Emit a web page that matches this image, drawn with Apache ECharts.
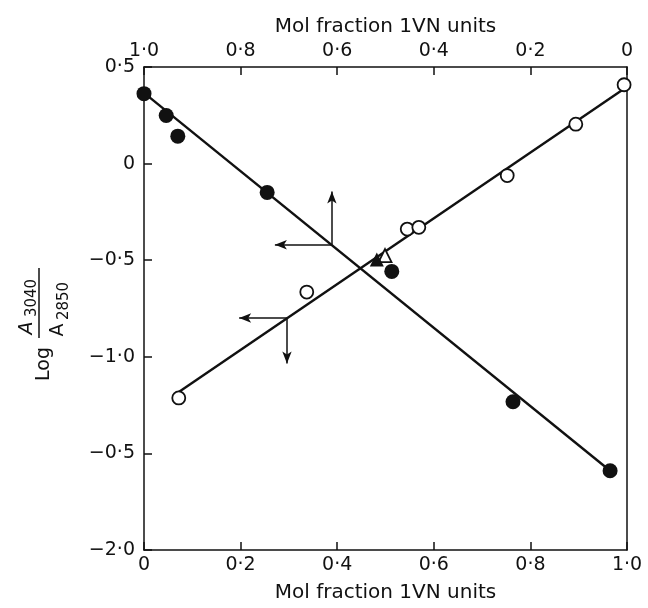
<!DOCTYPE html>
<html>
<head>
<meta charset="utf-8">
<script src="https://cdn.jsdelivr.net/npm/echarts@6/dist/echarts.min.js"></script>
<style>
  html, body { margin: 0; padding: 0; background: #fff; }
  #chart { width: 648px; height: 608px; }
</style>
</head>
<body>
<div id="chart"></div>
<script>
// Tick values and their printed labels
const xTickValues = [0, 0.2, 0.4, 0.6, 0.8, 1.0];
const xTickLabels = ['0', '0·2', '0·4', '0·6', '0·8', '1·0'];
const yTickValues = [-2.0, -1.5, -1.0, -0.5, 0, 0.5];
const yTickLabels = ['−2·0', '−0·5', '−1·0', '−0·5', '0', '0·5'];

// Open circles: read on the bottom axis
const openX = [0.072, 0.337, 0.545, 0.569, 0.752, 0.894, 0.994];
const openY = [-1.213, -0.665, -0.339, -0.330, -0.062, 0.204, 0.408];

// Filled circles: read on the top (reversed) axis
const filledX = [1.000, 0.954, 0.930, 0.745, 0.487, 0.236, 0.035];
const filledY = [0.362, 0.249, 0.142, -0.149, -0.558, -1.233, -1.590];

// Triangles
const openTriX = [0.499];
const openTriY = [-0.476];
const filledTriX = [0.518];
const filledTriY = [-0.497];

// Straight fitted lines (end points)
const openFitX = [0.072, 0.994];
const openFitY = [-1.182, 0.388];
const filledFitX = [1.000, 0.035];
const filledFitY = [0.366, -1.590];

// Reading arrows: corner point, then the two arrow tips
const upperArrow = { x: 0.611, y: -0.420, tipY: -0.144, tipX: 0.729 };   // top axis
const lowerArrow = { x: 0.296, y: -0.799, tipY: -1.035, tipX: 0.197 };   // bottom axis

const FONT = '"DejaVu Sans", sans-serif';
const INK = '#111';

function zip(xs, ys) { return xs.map((x, i) => [x, ys[i]]); }
function xLabel(v) {
  const i = xTickValues.findIndex(t => Math.abs(t - v) < 1e-6);
  return i >= 0 ? xTickLabels[i] : '';
}
function yLabel(v) {
  const i = yTickValues.findIndex(t => Math.abs(t - v) < 1e-6);
  return i >= 0 ? yTickLabels[i] : '';
}

const axisText = { color: INK, fontFamily: FONT, fontSize: 19 };
const titleText = { color: INK, fontFamily: FONT, fontSize: 20 };
const frameLine = { show: true, onZero: false, lineStyle: { color: INK, width: 1.5 } };
const innerTick = { show: true, inside: true, length: 8, lineStyle: { color: INK, width: 1.5 } };

const arrowLine = {
  silent: true,
  symbol: ['none', 'arrow'],
  symbolSize: [7, 12],
  lineStyle: { color: INK, width: 1.5, type: 'solid' },
  label: { show: false },
  emphasis: { disabled: true },
  animation: false
};

const chart = echarts.init(document.getElementById('chart'), null, { renderer: 'canvas' });

chart.setOption({
  animation: false,
  backgroundColor: '#fff',
  textStyle: { fontFamily: FONT },
  grid: { left: 144, right: 21, top: 67, bottom: 52, containLabel: false },
  xAxis: [
    {
      type: 'value', position: 'bottom', min: 0, max: 1, interval: 0.2,
      name: 'Mol fraction 1VN units', nameLocation: 'middle', nameGap: 33,
      nameTextStyle: titleText,
      axisLine: frameLine, axisTick: innerTick, splitLine: { show: false },
      axisLabel: Object.assign({ margin: 6, formatter: xLabel }, axisText)
    },
    {
      type: 'value', position: 'top', inverse: true, min: 0, max: 1, interval: 0.2,
      name: 'Mol fraction 1VN units', nameLocation: 'middle', nameGap: 27,
      nameTextStyle: titleText,
      axisLine: frameLine, axisTick: innerTick, splitLine: { show: false },
      axisLabel: Object.assign({ margin: 6, formatter: xLabel }, axisText)
    }
  ],
  yAxis: [
    {
      type: 'value', position: 'left', min: -2, max: 0.5, interval: 0.5,
      axisLine: frameLine, axisTick: innerTick, splitLine: { show: false },
      axisLabel: Object.assign({ margin: 9, formatter: yLabel }, axisText)
    },
    {
      type: 'value', position: 'right', min: -2, max: 0.5, interval: 0.5,
      axisLine: frameLine, axisTick: { show: false }, axisLabel: { show: false },
      splitLine: { show: false }
    }
  ],
  series: [
    {
      type: 'line', xAxisIndex: 0, yAxisIndex: 0, z: 2,
      data: zip(openFitX, openFitY), symbol: 'none', silent: true,
      lineStyle: { color: INK, width: 2.4 },
      markLine: Object.assign({
        data: [
          [{ coord: [lowerArrow.x, lowerArrow.y] }, { coord: [lowerArrow.tipX, lowerArrow.y] }],
          [{ coord: [lowerArrow.x, lowerArrow.y] }, { coord: [lowerArrow.x, lowerArrow.tipY] }]
        ]
      }, arrowLine)
    },
    {
      type: 'line', xAxisIndex: 1, yAxisIndex: 0, z: 2,
      data: zip(filledFitX, filledFitY), symbol: 'none', silent: true,
      lineStyle: { color: INK, width: 2.4 },
      markLine: Object.assign({
        data: [
          [{ coord: [upperArrow.x, upperArrow.y] }, { coord: [upperArrow.x, upperArrow.tipY] }],
          [{ coord: [upperArrow.x, upperArrow.y] }, { coord: [upperArrow.tipX, upperArrow.y] }]
        ]
      }, arrowLine)
    },
    {
      type: 'scatter', xAxisIndex: 0, yAxisIndex: 0, z: 5,
      data: zip(openX, openY), symbol: 'circle', symbolSize: 13,
      itemStyle: { color: '#fff', borderColor: INK, borderWidth: 1.8, opacity: 1 }
    },
    {
      type: 'scatter', xAxisIndex: 1, yAxisIndex: 0, z: 5,
      data: zip(filledX, filledY), symbol: 'circle', symbolSize: 15,
      itemStyle: { color: INK, opacity: 1 }
    },
    {
      type: 'scatter', xAxisIndex: 0, yAxisIndex: 0, z: 5,
      data: zip(openTriX, openTriY), symbol: 'triangle', symbolSize: 13,
      itemStyle: { color: '#fff', borderColor: INK, borderWidth: 1.8, opacity: 1 }
    },
    {
      type: 'scatter', xAxisIndex: 1, yAxisIndex: 0, z: 6,
      data: zip(filledTriX, filledTriY), symbol: 'triangle', symbolSize: 14,
      itemStyle: { color: INK, opacity: 1 }
    }
  ],
  // Vertical axis title: Log (A3040 / A2850), read bottom to top
  graphic: [
    {
      type: 'text', x: 44, y: 364, rotation: Math.PI / 2, silent: true,
      style: { text: 'Log', font: '19px ' + FONT, fill: INK, align: 'center', verticalAlign: 'middle' }
    },
    {
      type: 'text', x: 27, y: 328, rotation: Math.PI / 2, silent: true,
      style: { text: 'A', font: 'italic 19px ' + FONT, fill: INK, align: 'center', verticalAlign: 'middle' }
    },
    {
      type: 'text', x: 32, y: 298, rotation: Math.PI / 2, silent: true,
      style: { text: '3040', font: '15px ' + FONT, fill: INK, align: 'center', verticalAlign: 'middle' }
    },
    {
      type: 'line', silent: true,
      shape: { x1: 39, y1: 268, x2: 39, y2: 338 },
      style: { stroke: INK, lineWidth: 1.5 }
    },
    {
      type: 'text', x: 58, y: 330, rotation: Math.PI / 2, silent: true,
      style: { text: 'A', font: '19px ' + FONT, fill: INK, align: 'center', verticalAlign: 'middle' }
    },
    {
      type: 'text', x: 64, y: 301, rotation: Math.PI / 2, silent: true,
      style: { text: '2850', font: '15px ' + FONT, fill: INK, align: 'center', verticalAlign: 'middle' }
    }
  ]
});
</script>
</body>
</html>
